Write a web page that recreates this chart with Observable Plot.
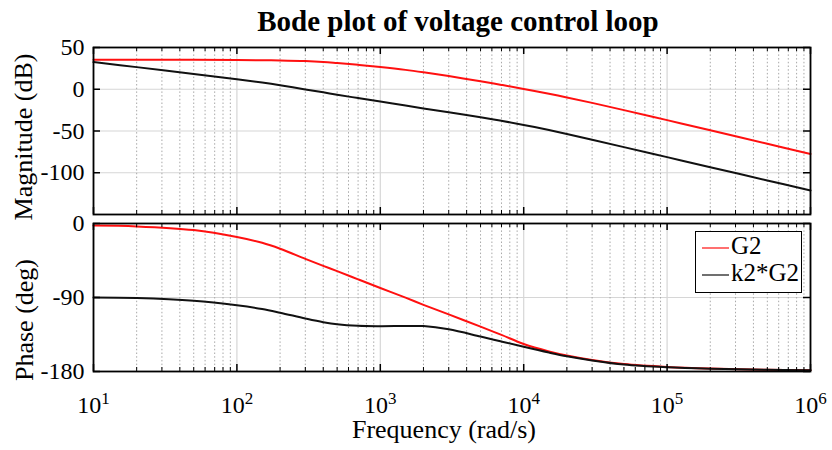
<!DOCTYPE html>
<html><head><meta charset="utf-8">
<script src="https://cdn.jsdelivr.net/npm/d3@7"></script>
<script src="https://cdn.jsdelivr.net/npm/@observablehq/plot@0.6"></script>
<style>
body{margin:0;background:#fff;}
#wrap{position:relative;width:832px;height:450px;font-family:"Liberation Serif","Times New Roman",serif;color:#000;overflow:hidden;}
.abs{position:absolute;white-space:nowrap;}
#wrap svg{position:absolute;left:0;}
</style></head><body><div id="wrap"></div>
<script>
// ---- data ----
const freq      = [10, 20, 50, 100, 150, 200, 300, 400, 500, 700, 1000, 1500, 2000, 3000, 5000, 7000, 10000, 15000, 20000, 30000, 50000, 100000, 200000, 500000, 1000000];
const magG2     = [35.3, 35.3, 35.2, 35.0, 34.8, 34.5, 33.7, 32.6, 31.3, 29.2, 26.6, 23.2, 20.3, 15.8, 9.5, 5.2, 0.4, -5.4, -9.8, -16.3, -25.0, -37.0, -49.2, -65.3, -77.5];
const magK2G2   = [32.5, 26.5, 18.3, 12.0, 8.0, 4.8, -0.2, -3.7, -6.5, -10.6, -14.8, -19.5, -23.0, -27.6, -33.6, -37.8, -42.7, -48.8, -53.5, -60.4, -69.3, -81.3, -93.3, -109.2, -121.3];
const phaseG2   = [-2.5, -3.5, -8.0, -16.4, -23.5, -30.7, -43.0, -51.5, -58.0, -67.9, -78.4, -90.2, -98.9, -110.6, -125.5, -135.5, -146.5, -155.5, -160.5, -166.0, -171.0, -174.5, -176.5, -178.0, -178.5];
const phaseK2G2 = [-90.0, -90.7, -94.0, -99.5, -104.0, -108.5, -115.5, -120.0, -122.6, -124.5, -124.9, -124.7, -124.8, -128.7, -137.5, -143.5, -150.0, -157.0, -161.5, -166.5, -171.5, -174.8, -176.6, -178.0, -178.5];
const seriesNames  = ["G2", "k2*G2"];
const seriesColors = ["#ff1010", "#111111"];
const decadeTicks = [1e1, 1e2, 1e3, 1e4, 1e5, 1e6];
const magTicks    = [50, 0, -50, -100];
const phaseTicks  = [0, -90, -180];
const magDomain   = [-150, 50];
const phaseDomain = [-180, 0];
const freqDomain  = [10, 1e6];
const titleText = "Bode plot of voltage control loop";
const xLabel = "Frequency (rad/s)";
const yLabelMag = "Magnitude (dB)";
const yLabelPhase = "Phase (deg)";

const minorTicks = [];
for (let d = 10; d < 1e6; d *= 10) for (let k = 2; k <= 9; k++) minorTicks.push(d * k);

function rowsFor(a, b) {
  const r = [];
  freq.forEach((f, i) => r.push({f, v: a[i], s: seriesNames[0]}));
  freq.forEach((f, i) => r.push({f, v: b[i], s: seriesNames[1]}));
  return r;
}

const W = 832, mL = 93, mR = 22;
const font = "'Liberation Serif','Times New Roman',serif";

function panel({rows, yDomain, yTicks, height, marginTop, marginBottom, showX}) {
  const H = height - marginTop - marginBottom, Wp = W - mL - mR;
  const majorLen = 7, minorLen = 4;
  const gridY = yTicks.filter(t => t > yDomain[0] && t < yDomain[1]);
  const marks = [
    Plot.ruleY(gridY, {y: d => d, stroke: "#d6d6d6", strokeWidth: 1.2}),
    Plot.ruleX(minorTicks, {x: d => d, stroke: "#a8a8a8", strokeWidth: 1, strokeDasharray: "1.5,2.2"}),
    Plot.ruleX(decadeTicks, {x: d => d, stroke: "#d6d6d6", strokeWidth: 1.2}),
    Plot.line(rows, {x: "f", y: "v", z: "s", stroke: "s", strokeWidth: 2, curve: "catmull-rom"}),
    Plot.tickX(decadeTicks, {x: d => d, insetTop: H - majorLen, stroke: "#000", strokeWidth: 1.5}),
    Plot.tickX(decadeTicks, {x: d => d, insetBottom: H - majorLen, stroke: "#000", strokeWidth: 1.5}),
    Plot.tickX(minorTicks, {x: d => d, insetTop: H - minorLen, stroke: "#000", strokeWidth: 1}),
    Plot.tickX(minorTicks, {x: d => d, insetBottom: H - minorLen, stroke: "#000", strokeWidth: 1}),
    Plot.tickY(yTicks, {y: d => d, insetRight: Wp - majorLen, stroke: "#000", strokeWidth: 1.5}),
    Plot.tickY(yTicks, {y: d => d, insetLeft: Wp - majorLen, stroke: "#000", strokeWidth: 1.5}),
    Plot.frame({stroke: "#000", strokeWidth: 1.8}),
    Plot.axisY(yTicks, {tickSize: 0, tickPadding: 9, fontSize: 24, label: null, tickFormat: d => `${d}`})
  ];
  if (showX) marks.push(Plot.axisX(decadeTicks, {tickSize: 0, tickPadding: 24, fontSize: 24, label: null,
      tickFormat: d => "10^" + Math.round(Math.log10(d))}));
  else marks.push(Plot.axisX({ticks: [], label: null, tickSize: 0}));
  return Plot.plot({
    width: W, height, marginLeft: mL, marginRight: mR, marginTop, marginBottom,
    style: {fontFamily: font, fontSize: "24px", color: "#000", background: "transparent", overflow: "visible"},
    x: {type: "log", domain: freqDomain},
    y: {domain: yDomain},
    color: {domain: seriesNames, range: seriesColors},
    marks
  });
}

const wrap = document.getElementById("wrap");
const magPanel = panel({rows: rowsFor(magG2, magK2G2), yDomain: magDomain, yTicks: magTicks,
  height: 218, marginTop: 47, marginBottom: 4, showX: false});
magPanel.style.top = "0px";
const phasePanel = panel({rows: rowsFor(phaseG2, phaseK2G2), yDomain: phaseDomain, yTicks: phaseTicks,
  height: 232, marginTop: 5, marginBottom: 79, showX: true});
phasePanel.style.top = "218px";
wrap.appendChild(magPanel);
wrap.appendChild(phasePanel);

// superscript exponents on x tick labels
const NS = "http://www.w3.org/2000/svg";
phasePanel.querySelectorAll("text").forEach(t => {
  const m = t.textContent.match(/^10\^(\d+)$/);
  if (m) {
    t.textContent = "10";
    const ts = document.createElementNS(NS, "tspan");
    ts.setAttribute("dy", "-9");
    ts.style.fontSize = "17px";
    ts.textContent = m[1];
    t.appendChild(ts);
  }
});

function addText(txt, css) {
  const d = document.createElement("div");
  d.className = "abs";
  d.textContent = txt;
  Object.assign(d.style, css);
  wrap.appendChild(d);
  return d;
}
addText(titleText, {left: "0px", width: "916px", textAlign: "center", top: "7px", fontSize: "29px", lineHeight: "29px", fontWeight: "bold"});
addText(xLabel, {left: "0px", width: "888px", textAlign: "center", top: "420px", fontSize: "26px", lineHeight: "20px"});
addText(yLabelMag, {left: "24px", top: "137px", fontSize: "26px", lineHeight: "26px", transform: "translate(-50%,-50%) rotate(-90deg)"});
addText(yLabelPhase, {left: "25px", top: "320px", fontSize: "26px", lineHeight: "26px", transform: "translate(-50%,-50%) rotate(-90deg)"});

// legend
const lg = document.createElement("div");
Object.assign(lg.style, {position: "absolute", left: "695px", top: "231px", width: "107px", height: "62px",
  border: "1.5px solid #000", boxSizing: "border-box", background: "#fff"});
seriesNames.forEach((name, i) => {
  const ln = document.createElement("div");
  Object.assign(ln.style, {position: "absolute", left: "6px", top: (15 + i * 27) + "px", width: "27px", height: "1.5px",
    background: seriesColors[i], opacity: "0.6"});
  lg.appendChild(ln);
  const tx = document.createElement("div");
  tx.textContent = name;
  Object.assign(tx.style, {position: "absolute", left: "35px", top: (1 + i * 27) + "px", fontSize: "25px", lineHeight: "25px", whiteSpace: "nowrap"});
  lg.appendChild(tx);
});
wrap.appendChild(lg);
</script></body></html>
